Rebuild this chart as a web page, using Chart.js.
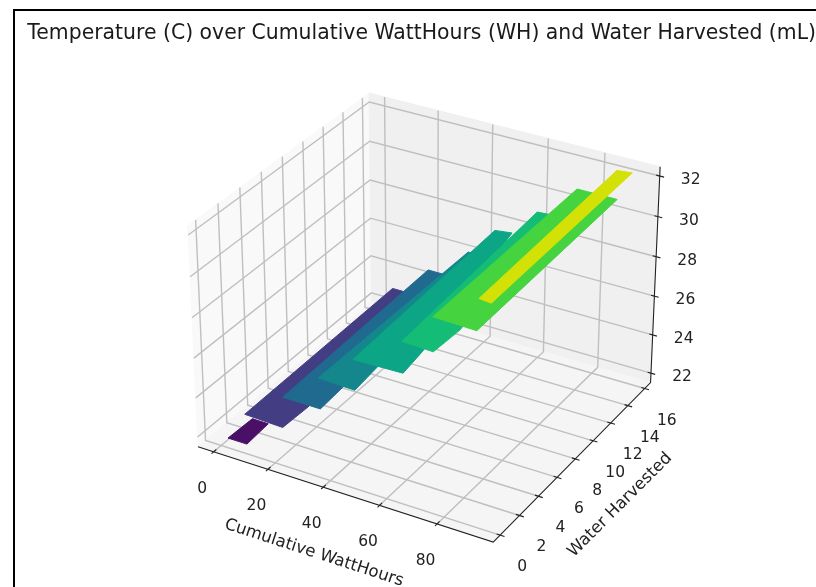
<!DOCTYPE html>
<html>
<head>
<meta charset="utf-8">
<script src="https://cdn.jsdelivr.net/npm/chart.js@4/dist/chart.umd.min.js"></script>
<style>body{margin:0;background:#fff}canvas{display:block}</style>
</head>
<body>
<canvas id="myChart" width="816" height="587"></canvas>
<script>
const chartTitle = 'Temperature (C) over Cumulative WattHours (WH) and Water Harvested (mL)'
const xTicks = [0, 20, 40, 60, 80]
const yTicks = [0, 2, 4, 6, 8, 10, 12, 14, 16]
const zTicks = [22, 24, 26, 28, 30, 32]
const xLim = [-5.84, 99.16], yLim = [-0.7, 16.7], zLim = [21.5, 32.45]

// each plateau of the surface: one temperature, outline
const temps = [22, 23.57, 25.35, 26.43, 27.91, 28.9, 30.67, 31.86]
const wattHours = [
  [2.7, 9.7, 9.0, 3.1],
  [9.7, 9.0, 14.4, 23.8, 24.3, 23.9],
  [25.8, 24.3, 30.7, 38.5, 39.2],
  [36.0, 36.5, 41.1, 48.1, 49.2],
  [48.7, 46.2, 51.8, 64.3, 65.6],
  [62.0, 58.2, 63.3, 73.6, 73.1],
  [73.6, 72.8, 86.9, 88.6],
  [87.2, 85.1, 90.0, 91.6]
]
const water = [
  [0, 0, 2.2, 2.2],
  [-0.1, 14.9, 14.9, 3.4, 2.1, -0.2],
  [-0.6, 14.4, 14.4, 1.8, -0.6],
  [0.1, 15.2, 15.1, 2.5, 0],
  [0, 15.2, 15.4, 2.3, 0.1],
  [1.0, 16.2, 16.3, 3.4, 0.9],
  [0.7, 16.0, 16.0, 0.6],
  [1.2, 16.45, 16.6, 1.1]
]
const plateauColors = ['#4a1068', '#433d84', '#1f6a8e', '#14878c', '#0ca585', '#14bc75', '#45d33f', '#d3e106']

// same camera as a default mplot3d axes (elev 30, azim -60)
const box = [1.1429, 1.1429, 0.8571], dist = 10
const U = [0.866, 0.5, 0], V = [-0.25, 0.433, 0.866], W = [0.433, -0.75, 0.5]
const dot = (a, b) => a[0] * b[0] + a[1] * b[1] + a[2] * b[2]
function proj(x, y, z) {
  const p = [((x - xLim[0]) / (xLim[1] - xLim[0]) - 0.5) * box[0],
    ((y - yLim[0]) / (yLim[1] - yLim[0]) - 0.5) * box[1],
    ((z - zLim[0]) / (zLim[1] - zLim[0]) - 0.5) * box[2]]
  const d = dist - dot(W, p)
  return { x: dot(U, p) / d, y: dot(V, p) / d }
}

const [x0, x1] = xLim, [y0, y1] = yLim, [z0, z1] = zLim
const datasets = []
// later entries paint on top
function add(pts, color, width, fill) {
  datasets.push({
    data: fill ? pts.concat([pts[0]]) : pts,
    borderColor: color, borderWidth: width, backgroundColor: color,
    fill: fill ? 'shape' : false, pointRadius: 0, tension: 0, showLine: true, clip: false,
    order: 1000 - datasets.length
  })
}

// panes
add([proj(x0, y0, z0), proj(x0, y1, z0), proj(x0, y1, z1), proj(x0, y0, z1)], '#f9f9f9', 1, true)
add([proj(x0, y1, z0), proj(x1, y1, z0), proj(x1, y1, z1), proj(x0, y1, z1)], '#f0f0f0', 1, true)
add([proj(x0, y0, z0), proj(x1, y0, z0), proj(x1, y1, z0), proj(x0, y1, z0)], '#f5f5f5', 1, true)

// grid
const gridColor = '#bfbfbf'
xTicks.forEach(t => add([proj(t, y0, z0), proj(t, y1, z0), proj(t, y1, z1)], gridColor, 1.4))
yTicks.forEach(t => add([proj(x1, t, z0), proj(x0, t, z0), proj(x0, t, z1)], gridColor, 1.4))
zTicks.forEach(t => add([proj(x0, y0, t), proj(x0, y1, t), proj(x1, y1, t)], gridColor, 1.4))

// axis lines and tick marks
const ink = '#222'
add([proj(x0, y0, z0), proj(x1, y0, z0), proj(x1, y1, z0), proj(x1, y1, z1)], ink, 1.1)
xTicks.forEach(t => add([proj(t, y0 + 0.25, z0), proj(t, y0 - 0.2, z0)], ink, 1.1))
yTicks.forEach(t => add([proj(x1 - 1.2, t, z0), proj(x1 + 1.5, t, z0)], ink, 1.1))
zTicks.forEach(t => add([proj(x1 - 1.2, y1, t), proj(x1 + 1.5, y1, t)], ink, 1.1))

// surface, lowest plateau first
temps.forEach((z, i) => {
  add(wattHours[i].map((x, j) => proj(x, water[i][j], z)), plateauColors[i], 1, true)
})

const labels = {
  id: 'labels',
  beforeDraw(chart) {
    const c = chart.ctx
    c.save()
    c.strokeStyle = '#000'
    c.lineWidth = 2
    c.beginPath()
    c.moveTo(14, 587)
    c.lineTo(14, 10)
    c.lineTo(816, 10)
    c.stroke()
    c.restore()
  },
  afterDraw(chart) {
    const c = chart.ctx, sx = chart.scales.x, sy = chart.scales.y
    const px = p => [sx.getPixelForValue(p.x), sy.getPixelForValue(p.y)]
    c.save()
    c.fillStyle = '#222'
    c.font = '15.5px "DejaVu Sans"'
    c.textAlign = 'center'
    c.textBaseline = 'middle'
    xTicks.forEach(t => { const p = px(proj(t, y0, z0)); c.fillText(t, p[0] - 11.5, p[1] + 37) })
    yTicks.forEach(t => { const p = px(proj(x1, t, z0)); c.fillText(t, p[0] + 22, p[1] + 32) })
    zTicks.forEach(t => { const p = px(proj(x1, y1, t)); c.fillText(t, p[0] + 31, p[1] + 4) })
    c.font = '16.6px "DejaVu Sans"'
    const rot = (s, x, y, a) => {
      c.save()
      c.translate(x, y)
      c.rotate(a * Math.PI / 180)
      c.fillText(s, 0, 0)
      c.restore()
    }
    rot('Cumulative WattHours', 314, 553, 18)
    rot('Water Harvested', 620, 505, -45)
    c.restore()
  }
}

// plane coordinates -> canvas: origin of the view at (428.3, 307.2), chart area starts under the title
const X0 = 428.3, SX = 2960, Y0 = 307.2, SY = 2942, titleH = 45.48
new Chart(document.getElementById('myChart'), {
  type: 'scatter',
  data: { datasets },
  plugins: [labels],
  options: {
    responsive: false,
    animation: false,
    layout: { padding: 0 },
    scales: {
      x: { type: 'linear', display: false, min: -X0 / SX, max: (816 - X0) / SX },
      y: { type: 'linear', display: false, min: (Y0 - 587) / SY, max: (Y0 - titleH) / SY }
    },
    plugins: {
      legend: { display: false },
      tooltip: { enabled: false },
      title: {
        display: true, text: chartTitle, align: 'end', color: '#1a1a1a',
        font: { family: 'DejaVu Sans', size: 20.4, weight: 'normal', lineHeight: 1.2 },
        padding: { top: 21, bottom: 0 }
      }
    }
  }
})
</script>
</body>
</html>
